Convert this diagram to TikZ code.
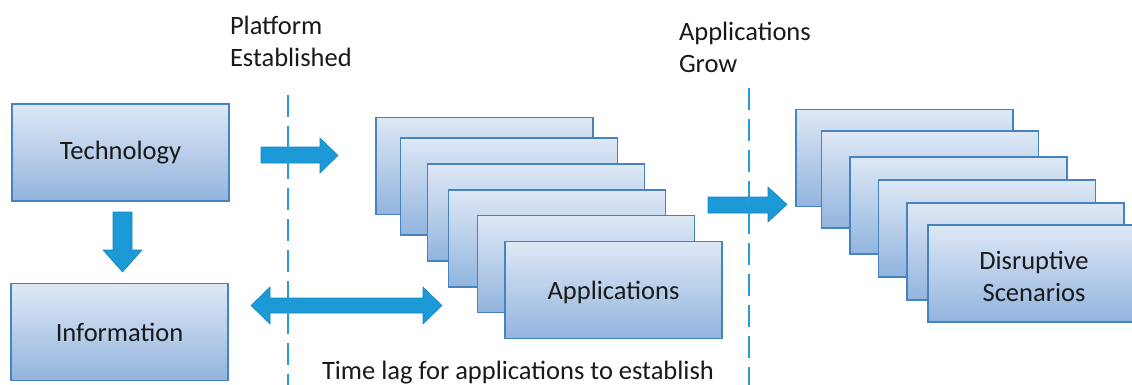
\documentclass[tikz,border=0pt]{standalone}
\usepackage{fontspec}
\setmainfont{Carlito}
\definecolor{boxtop}{RGB}{222,232,245}
\definecolor{boxbot}{RGB}{146,180,222}
\definecolor{boxline}{RGB}{70,132,192}
\definecolor{arrowfill}{RGB}{28,154,215}
\definecolor{arrowline}{RGB}{24,132,192}
\definecolor{guideblue}{RGB}{40,156,216}
\definecolor{ink}{RGB}{25,25,25}
\tikzset{
  card/.style={rectangle, draw=boxline, line width=1.4pt, top color=boxtop,
    bottom color=boxbot, minimum width=217pt, minimum height=97pt,
    inner sep=0pt, outer sep=0pt, align=center, text=ink},
  label/.style={inner sep=0pt, outer sep=0pt, align=left, text=ink},
  blockarrow/.style={fill=arrowfill, draw=arrowline, line width=0.6pt, line join=miter},
  guide/.style={draw=guideblue, line width=1.8pt, dash pattern=on 22pt off 9pt}
}
\begin{document}
\begin{tikzpicture}[x=1pt, y=-1pt, font=\fontsize{26.5}{32}\selectfont]
  \useasboundingbox (0,0) rectangle (1132,385);
  \fill[white] (0,0) rectangle (1132,385);

  % left column
  \node[card] (tech) at (120.5,152.5) {Technology};
  \node[card] (info) at (119.5,332) {Information};

  % stack of application cards
  \node[card] (a1) at (484.5,166) {};
  \node[card] (a2) at (509,186.5) {};
  \node[card] (a3) at (536,212.5) {};
  \node[card] (a4) at (557,238.5) {};
  \node[card] (a5) at (586,264) {};
  \node[card] (a6) at (613.5,290) {};
  \node[text=ink, inner sep=0pt] (a6text) at (613.5,292) {Applications};

  % stack of scenario cards
  \node[card] (d1) at (904.5,158) {};
  \node[card] (d2) at (930,179.5) {};
  \node[card] (d3) at (958.5,205.5) {};
  \node[card] (d4) at (987,228.5) {};
  \node[card] (d5) at (1015.5,251.5) {};
  \node[card] (d6) at (1036.5,273.5) {};
  \node[text=ink, inner sep=0pt, align=center] (d6text) at (1034,276.5) {Disruptive\\Scenarios};

  % block arrows
  \draw[blockarrow] (113,212) -- (132,212) -- (132,250) -- (142,250)
    -- (122.5,272) -- (103,250) -- (113,250) -- cycle;
  \draw[blockarrow] (261,147) -- (320,147) -- (320,138) -- (338,155.5)
    -- (320,173) -- (320,163) -- (261,163) -- cycle;
  \draw[blockarrow] (708,197) -- (768,197) -- (768,187) -- (787,204.5)
    -- (768,222) -- (768,213) -- (708,213) -- cycle;
  \draw[blockarrow] (251,305.5) -- (270,287) -- (270,298) -- (423,298)
    -- (423,287) -- (442,305.5) -- (423,324) -- (423,313) -- (270,313)
    -- (270,324) -- cycle;

  % phase boundaries
  \coordinate (g1top) at (288,95);
  \coordinate (g1bot) at (288,385);
  \coordinate (g2top) at (749,88);
  \coordinate (g2bot) at (749,385);
  \draw[guide] (g1top) -- (g1bot);
  \draw[guide] (g2top) -- (g2bot);

  % captions
  \node[label, anchor=north west] (plat) at (230,16) {Platform\\Established};
  \node[label, anchor=north west] (grow) at (679,22) {Applications\\Grow};
  \node[label, anchor=base west] (lag) at (322,379) {Time lag for applications to establish};
\end{tikzpicture}
\end{document}
